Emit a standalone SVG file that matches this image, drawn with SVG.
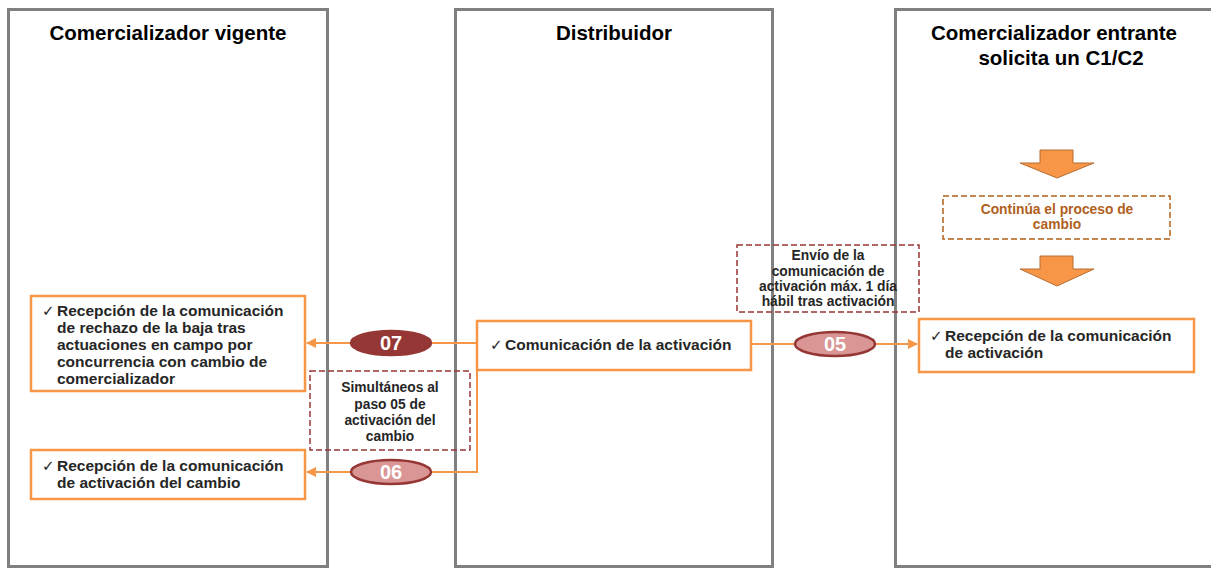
<svg xmlns="http://www.w3.org/2000/svg" width="1211" height="568" viewBox="0 0 1211 568">
<defs>
<style>
.lane{fill:#fff;stroke:#808080;stroke-width:3}
.title{font-family:"Liberation Sans",Arial,sans-serif;font-weight:bold;font-size:20.5px;fill:#000;text-anchor:middle}
.box{fill:#fff;stroke:#f79646;stroke-width:2.5}
.bt{font-family:"Liberation Sans",Arial,sans-serif;font-weight:bold;font-size:15.5px;fill:#262626}
.ck{font-family:"DejaVu Sans",sans-serif;font-weight:normal;font-size:15px;fill:#262626}
.note{fill:none;stroke:#953735;stroke-width:1.5;stroke-dasharray:6 3}
.nt{font-family:"Liberation Sans",Arial,sans-serif;font-weight:bold;font-size:13.8px;fill:#262626;text-anchor:middle}
.conn{fill:none;stroke:#f79646;stroke-width:2}
.num{font-family:"Liberation Sans",Arial,sans-serif;font-weight:bold;font-size:20px;fill:#fff;text-anchor:middle}
.dark{fill:#953735;stroke:#953735;stroke-width:2.5}
.light{fill:#d99694;stroke:#953735;stroke-width:2.5}
.barrow{fill:#f79646;stroke:#b66d31;stroke-width:1}
</style>
<marker id="ah" viewBox="0 0 10 10" refX="9" refY="5" markerWidth="5" markerHeight="5" orient="auto" markerUnits="strokeWidth">
<path d="M0,0 L10,5 L0,10 z" fill="#f79646"/>
</marker>
</defs>
<rect width="1211" height="568" fill="#fff"/>

<g id="lane-vigente">
<rect class="lane" x="8.5" y="9.5" width="319" height="557"/>
<text class="title" x="168" y="40">Comercializador vigente</text>
</g>
<g id="lane-distribuidor">
<rect class="lane" x="455.5" y="9.5" width="317" height="557"/>
<text class="title" x="614" y="40">Distribuidor</text>
</g>
<g id="lane-entrante">
<rect class="lane" x="895.5" y="9.5" width="330" height="557"/>
<text class="title" x="1054" y="40">Comercializador entrante</text>
<text class="title" x="1061" y="65">solicita un C1/C2</text>
</g>

<g id="connectors">
<path class="conn" d="M477,343 L307,343" marker-end="url(#ah)"/>
<path class="conn" d="M477,343 L477,472 L307,472" marker-end="url(#ah)"/>
<path class="conn" d="M751,344 L917,344" marker-end="url(#ah)"/>
</g>

<g id="arrow-down-1">
<path class="barrow" d="M1040,150 L1073,150 L1073,163 L1094,163 L1057,178 L1020,163 L1040,163 z"/>
</g>
<g id="arrow-down-2">
<path class="barrow" d="M1040,256 L1073,256 L1073,269 L1094,269 L1057,286 L1020,269 L1040,269 z"/>
</g>

<g id="node-rechazo">
<rect class="box" x="31" y="296" width="274" height="95"/>
<text class="ck" x="42" y="316">✓</text>
<text class="bt" x="57" y="316">Recepción de la comunicación</text>
<text class="bt" x="57" y="333">de rechazo de la baja tras</text>
<text class="bt" x="57" y="350">actuaciones en campo por</text>
<text class="bt" x="57" y="367">concurrencia con cambio de</text>
<text class="bt" x="57" y="384">comercializador</text>
</g>
<g id="node-activacion-cambio">
<rect class="box" x="31" y="450" width="274" height="49"/>
<text class="ck" x="42" y="471">✓</text>
<text class="bt" x="57" y="471">Recepción de la comunicación</text>
<text class="bt" x="57" y="488">de activación del cambio</text>
</g>
<g id="node-comunicacion">
<rect class="box" x="477" y="321" width="274" height="49"/>
<text class="ck" x="490" y="350">✓</text>
<text class="bt" x="505" y="350">Comunicación de la activación</text>
</g>
<g id="node-recepcion">
<rect class="box" x="919" y="319" width="275" height="53"/>
<text class="ck" x="930" y="341">✓</text>
<text class="bt" x="945" y="341">Recepción de la comunicación</text>
<text class="bt" x="945" y="358">de activación</text>
</g>

<g id="note-simultaneos">
<rect class="note" x="310" y="371" width="160" height="79"/>
<text class="nt" x="390" y="392">Simultáneos al</text>
<text class="nt" x="390" y="408.5">paso 05 de</text>
<text class="nt" x="390" y="425">activación del</text>
<text class="nt" x="390" y="441">cambio</text>
</g>
<g id="note-envio">
<rect class="note" x="737" y="245" width="182" height="67"/>
<text class="nt" x="828" y="260">Envío de la</text>
<text class="nt" x="828" y="275.5">comunicación de</text>
<text class="nt" x="828" y="291">activación máx. 1 día</text>
<text class="nt" x="828" y="306">hábil tras activación</text>
</g>
<g id="note-continua">
<rect x="943" y="196" width="227" height="43" fill="none" stroke="#b0601c" stroke-width="1.5" stroke-dasharray="6 3"/>
<text class="nt" x="1057" y="214" style="fill:#b0601c">Continúa el proceso de</text>
<text class="nt" x="1057" y="229" style="fill:#b0601c">cambio</text>
</g>

<g id="step-07">
<ellipse class="dark" cx="391" cy="343" rx="40" ry="12"/>
<text class="num" x="391" y="350">07</text>
</g>
<g id="step-06">
<ellipse class="light" cx="391" cy="472" rx="40" ry="12"/>
<text class="num" x="391" y="479">06</text>
</g>
<g id="step-05">
<ellipse class="light" cx="835" cy="344" rx="40" ry="12"/>
<text class="num" x="835" y="351">05</text>
</g>
</svg>
